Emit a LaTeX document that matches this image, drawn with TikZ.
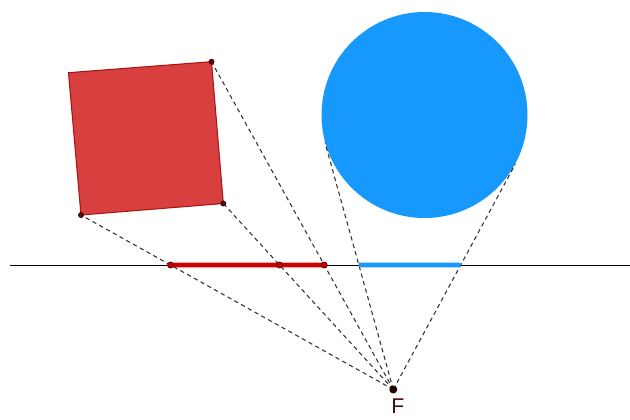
\documentclass[tikz,border=0pt]{standalone}
\usepackage{fontspec}
\setmainfont{Liberation Sans}
\usetikzlibrary{calc}
\definecolor{sqfill}{RGB}{216,64,64}
\definecolor{sqedge}{RGB}{170,20,20}
\definecolor{segred}{RGB}{204,0,0}
\definecolor{circblue}{RGB}{22,152,252}
\definecolor{ptcol}{RGB}{90,10,10}
\definecolor{flabel}{RGB}{70,15,15}
\tikzset{
  proj/.style={dashed, dash pattern=on 3.2pt off 2.6pt, line width=0.8pt, black!80},
  dotpt/.style={circle, fill=ptcol, draw=ptcol!60!black, inner sep=0pt, minimum size=4pt},
  segdot/.style={circle, draw=ptcol, fill=segred, line width=0.6pt, inner sep=0pt, minimum size=4.5pt},
}
\begin{document}
\begin{tikzpicture}[x=0.75pt,y=-0.75pt]
\useasboundingbox (0,0) rectangle (630,419);
% reference line
\coordinate (L1) at (10,265);
\coordinate (L2) at (630,265);
% square corners
\coordinate (A) at (68.5,72.7);
\coordinate (B) at (211.5,61.7);
\coordinate (C) at (223.3,203.5);
\coordinate (D) at (81,215);
\coordinate (F) at (393.3,389.5);
% circle
\node (circ) [circle, fill=circblue, inner sep=0pt, minimum size=154.5pt] at (424.5,115) {};
\coordinate (T1) at (tangent cs:node=circ,point={(F)},solution=2);
\coordinate (T2) at (tangent cs:node=circ,point={(F)},solution=1);
% square
\filldraw[fill=sqfill, draw=sqedge, line width=0.8pt] (A) -- (B) -- (C) -- (D) -- cycle;
% projections intersections
\coordinate (P1) at (intersection of F--D and L1--L2);
\coordinate (P2) at (intersection of F--C and L1--L2);
\coordinate (P3) at (intersection of F--B and L1--L2);
\coordinate (Q1) at (intersection of F--T1 and L1--L2);
\coordinate (Q2) at (intersection of F--T2 and L1--L2);
% horizontal line
\draw[line width=0.7pt, black] (L1) -- (L2);
% dashed projection lines
\draw[proj] (F) -- (D);
\draw[proj] (F) -- (C);
\draw[proj] (F) -- (B);
\draw[proj] (F) -- (T1);
\draw[proj] (F) -- (T2);
% segments
\draw[segred, line width=3.5pt] (P1) -- (P3);
\draw[circblue, line width=3.5pt] (Q1) -- (Q2);
% points
\node[dotpt] (dA) at (B) {};
\node[dotpt] (dC) at (C) {};
\node[dotpt] (dD) at (D) {};
\node[segdot] (s1) at (P1) {};
\node[segdot] (s2) at (P2) {};
\node[segdot] (s3) at (P3) {};
\node[circle, fill=black!85!red, inner sep=0pt, minimum size=6pt] (Fp) at (F) {};
\node[text=flabel, font=\fontsize{16}{18}\selectfont, inner sep=0pt] (Fl) at (398,406.5) {F};
\end{tikzpicture}
\end{document}
